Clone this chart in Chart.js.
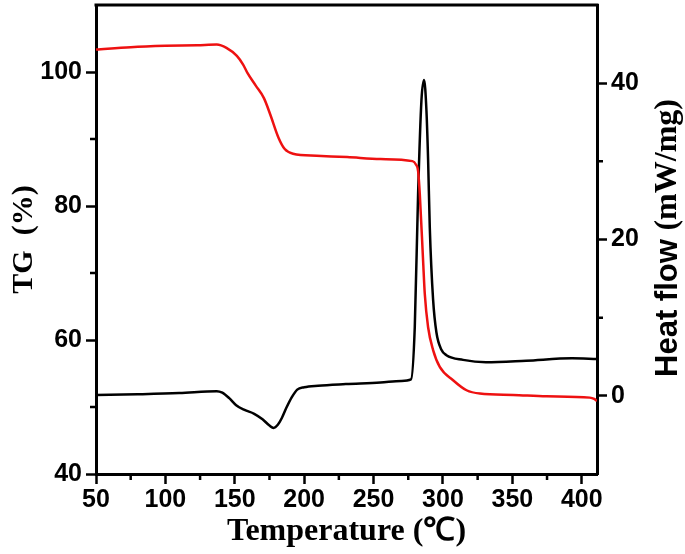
<!DOCTYPE html>
<html>
<head>
<meta charset="utf-8">
<script src="https://cdn.jsdelivr.net/npm/chart.js@4.4.1/dist/chart.umd.min.js"></script>
<style>
  html, body { margin: 0; padding: 0; background: #fff; }
  #chart { display: block; }
</style>
</head>
<body>
<canvas id="chart" width="685" height="554"></canvas>
<script>
// TG curve (red, left axis)
const tgTemps = [50, 75, 100, 123, 137, 144, 151.5, 156, 159, 165, 171, 175.5, 181.5, 186, 192, 209, 231, 255, 278, 280.5, 282.1, 283.3, 285.7, 286.9, 289.3, 292.9, 297.7, 307.3, 317, 326.6, 350.6, 374.6, 405.8, 409, 411];
const tgValues = [103.35, 103.7, 103.9, 104.0, 104.1, 103.6, 102.4, 101.1, 99.9, 98.0, 96.1, 93.7, 90.2, 88.5, 87.8, 87.5, 87.3, 87.0, 86.7, 86.2, 85.2, 81.8, 71.8, 66.9, 61.9, 58.5, 56.0, 54.0, 52.5, 52.0, 51.8, 51.6, 51.4, 51.2, 50.9];

// heat flow curve (black, right axis)
const hfTemps = [50, 80, 110, 137, 141, 146, 151, 157, 164, 170, 175, 178, 181, 184, 187, 191, 195, 200, 210, 230, 255, 270, 277, 279.7, 282.1, 284.5, 286.4, 288.1, 289.3, 290.5, 292.9, 295.3, 298.9, 302.5, 314.5, 331, 360, 393, 411];
const hfValues = [0.1, 0.2, 0.35, 0.6, 0.4, -0.3, -1.2, -1.8, -2.3, -3.0, -3.8, -4.1, -3.7, -2.8, -1.6, -0.2, 0.8, 1.1, 1.3, 1.5, 1.7, 1.9, 2.1, 8.8, 25.9, 37.8, 40.4, 36.5, 30.2, 21.6, 12.3, 8.1, 5.9, 5.2, 4.6, 4.3, 4.5, 4.8, 4.7];

// tick labels
const xTicks = [50, 100, 150, 200, 250, 300, 350, 400];
const tgTicks = [40, 60, 80, 100];
const hfTicks = [0, 20, 40];
const xMinorTicks = [75, 125, 175, 225, 275, 325, 375];
const tgMinorTicks = [50, 70, 90];
const hfMinorTicks = [10, 30];

const tickFont = { family: "'Liberation Sans', Arial, sans-serif", size: 25, weight: "bold" };
const setTicks = list => s => { s.ticks = list.map(v => ({ value: v })); };
const fitBox = (w, h) => s => {
  if (w) s.width = w;
  if (h) s.height = h;
  s.paddingTop = 0; s.paddingBottom = 0; s.paddingLeft = 0; s.paddingRight = 0;
};

const framePlugin = {
  id: "frame",
  afterDraw(chart) {
    const { ctx, chartArea: a, scales } = chart;
    ctx.save();
    ctx.strokeStyle = "#000";
    ctx.lineWidth = 3;
    ctx.beginPath();
    ctx.moveTo(a.left - 1.5, a.top);
    ctx.lineTo(a.right + 1.5, a.top);
    ctx.stroke();

    // minor ticks
    ctx.lineWidth = 2.5;
    ctx.beginPath();
    xMinorTicks.forEach(v => {
      const px = scales.x.getPixelForValue(v);
      ctx.moveTo(px, a.bottom);
      ctx.lineTo(px, a.bottom + 6);
    });
    tgMinorTicks.forEach(v => {
      const py = scales.yTG.getPixelForValue(v);
      ctx.moveTo(a.left, py);
      ctx.lineTo(a.left - 6, py);
    });
    hfMinorTicks.forEach(v => {
      const py = scales.yHF.getPixelForValue(v);
      ctx.moveTo(a.right, py);
      ctx.lineTo(a.right + 6, py);
    });
    ctx.stroke();

    // right axis title, two fonts like the original
    const partA = "Heat flow ";
    const partB = "(mW/mg)";
    const fontA = "bold 31px 'Liberation Sans', Arial, sans-serif";
    const fontB = "bold 32px 'Liberation Serif', 'Times New Roman', serif";
    ctx.font = fontA;
    const wA = ctx.measureText(partA).width;
    ctx.font = fontB;
    const wB = ctx.measureText(partB).width;
    ctx.translate(668, 238 + (wA + wB) / 2);
    ctx.rotate(-Math.PI / 2);
    ctx.fillStyle = "#000";
    ctx.textBaseline = "middle";
    ctx.textAlign = "left";
    ctx.font = fontA;
    ctx.fillText(partA, 0, 0);
    ctx.font = fontB;
    ctx.fillText(partB, wA, 0);
    ctx.restore();
  }
};

new Chart(document.getElementById("chart"), {
  type: "line",
  data: {
    datasets: [
      {
        label: "TG",
        data: tgTemps.map((t, i) => ({ x: t, y: tgValues[i] })),
        yAxisID: "yTG",
        borderColor: "#ee1111",
        borderWidth: 2.5,
        pointRadius: 0,
        cubicInterpolationMode: "monotone",
      },
      {
        label: "Heat flow",
        data: hfTemps.map((t, i) => ({ x: t, y: hfValues[i] })),
        yAxisID: "yHF",
        borderColor: "#000",
        borderWidth: 2.5,
        pointRadius: 0,
        cubicInterpolationMode: "monotone",
      },
    ],
  },
  options: {
    responsive: false,
    animation: false,
    layout: { padding: { top: 5, left: 0, right: 0, bottom: 0 } },
    plugins: { legend: { display: false }, tooltip: { enabled: false } },
    scales: {
      x: {
        type: "linear",
        min: 50,
        max: 411,
        afterBuildTicks: setTicks(xTicks),
        afterFit: fitBox(0, 80),
        ticks: { color: "#000", font: tickFont, padding: 1, maxRotation: 0 },
        grid: { drawOnChartArea: false, tickLength: 10, tickWidth: 2.5, tickColor: "#000" },
        border: { color: "#000", width: 3 },
        title: {
          display: true,
          text: "Temperature (℃)",
          color: "#000",
          font: { family: "'Liberation Serif', 'Times New Roman', serif", size: 32, weight: "bold" },
          padding: { top: 0, bottom: 3 },
        },
      },
      yTG: {
        position: "left",
        min: 40,
        max: 110,
        afterBuildTicks: setTicks(tgTicks),
        afterFit: fitBox(96, 0),
        ticks: { color: "#000", font: tickFont, padding: 4 },
        grid: { drawOnChartArea: false, tickLength: 10, tickWidth: 2.5, tickColor: "#000" },
        border: { color: "#000", width: 3 },
        title: {
          display: true,
          text: "TG  (%)",
          color: "#000",
          font: { family: "'Liberation Serif', 'Times New Roman', serif", size: 30, weight: "bold" },
          padding: { top: 6, bottom: 0 },
        },
      },
      yHF: {
        position: "right",
        min: -10,
        max: 50,
        afterBuildTicks: setTicks(hfTicks),
        afterFit: fitBox(88, 0),
        ticks: { color: "#000", font: tickFont, padding: 4 },
        grid: { drawOnChartArea: false, tickLength: 10, tickWidth: 2.5, tickColor: "#000" },
        border: { color: "#000", width: 3 },
      },
    },
  },
  plugins: [framePlugin],
});
</script>
</body>
</html>
